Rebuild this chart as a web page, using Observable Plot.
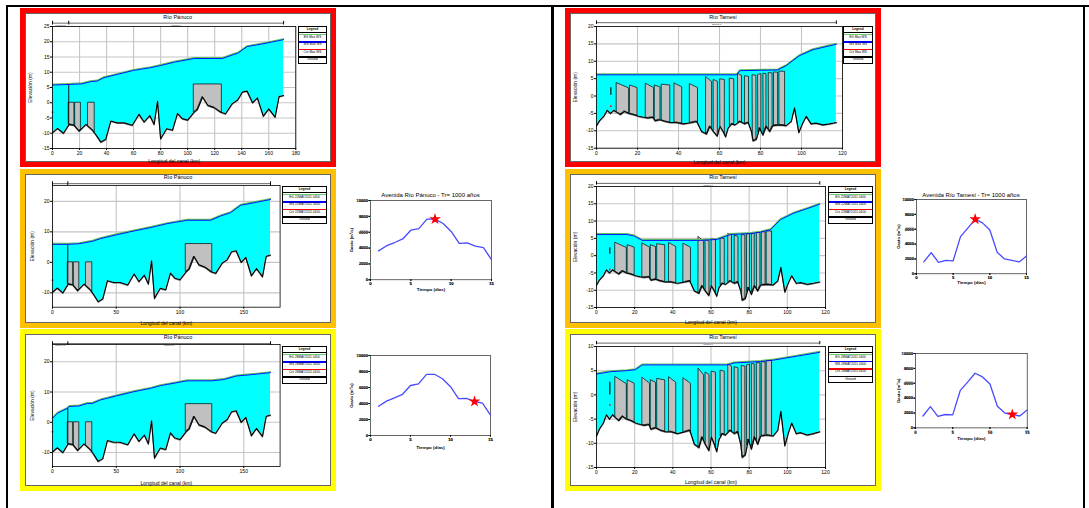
<!DOCTYPE html>
<html lang="es"><head><meta charset="utf-8">
<script src="https://cdn.jsdelivr.net/npm/d3@7"></script>
<script src="https://cdn.jsdelivr.net/npm/@observablehq/plot@0.6"></script>
<style>
html,body{margin:0;padding:0;background:#fff;}
#page{position:relative;width:1089px;height:508px;overflow:hidden;background:#fff;font-family:"Liberation Sans",Arial,sans-serif;}
.blk{position:absolute;background:#000;}
.box{position:absolute;box-sizing:border-box;}
.inner{position:absolute;box-sizing:border-box;border:1px solid #666;background:#fff;}
.ttl{position:absolute;transform:translate(-50%,-50%);white-space:nowrap;font-size:5.5px;color:#000;}
.leg{position:absolute;box-sizing:border-box;border:1px solid #000;background:#fff;font-size:3.2px;color:#000;overflow:hidden;}
.leg div{position:absolute;left:0;right:0;}
.leg .h{top:0;height:5px;line-height:5px;text-align:center;font-weight:bold;border-bottom:0.8px solid #000;}
.leg .ln{height:1.4px;}
.leg .tx{text-align:center;white-space:nowrap;line-height:3.4px;height:3.4px;}
.plot{position:absolute;overflow:visible;}
</style></head><body><div id="page"></div>
<script>
// ---------------- DATA ----------------
// Río Pánuco: ground profile (km, m)
const panucoKm = [0,3.7,8.1,12.3,16,19.7,24.7,29.6,32,35.8,39.4,43.1,48,53,59,64,67.8,72,75.2,77.7,80,84.5,88.8,92.5,96,100,104.8,107.2,111,115,119.6,124.5,128,133,137,140.5,144,148,151.6,156,160,164.7,167.6,171];
const panucoGround = [-9.8,-8.4,-10,-7.1,-7.4,-9.3,-7.1,-9,-10.4,-12.9,-12,-6,-6.6,-6.6,-7.4,-3.8,-6.3,-4.2,-7.1,0.5,-11.8,-8.5,-9,-3.5,-5.2,-5.7,-3.1,-2.2,1.9,-0.9,-1.6,-3.1,-3.6,-0.3,0.9,3.5,3.8,0,1.6,-4.4,-2,-4.7,2,2.4];
// water surface profiles
const panucoMaxKm = [0,12.3,22,28,33,38,48,60,72.7,80,90,104.8,125.7,134,137,144,149,159,171];
const panucoMaxWs = [5.8,6.0,6.2,6.9,7.1,8.2,9.3,10.6,11.5,12.2,13.3,14.5,14.5,15.8,16.2,18.4,18.8,19.6,20.7];
const panuco22Km = [0,11.7,20.9,31.3,37.9,50.9,64,77,90,105.7,124,131.9,139.7,147.5,171];
const panuco22Ws = [5.9,5.9,6.1,6.9,7.8,9.1,10.3,11.4,12.7,13.8,13.8,15.2,16.3,18.7,20.6];
const panuco28Km = [0,3.9,11.7,13,20.8,27.3,31,37.8,50.8,63.8,76.8,84.6,97.7,105.5,125,134,144.5,157.6,171];
const panuco28Ws = [1.3,3.0,4.6,5.2,5.4,6.2,6.2,7.4,8.8,10.1,11.2,12.1,13.1,13.7,13.7,14.1,15.3,15.8,16.4];
// structures (bridges / culverts)
const panucoStructStart = [12.3,17.0,26.5,104.8];
const panucoStructEnd   = [16.2,21.0,31.2,125.3];
const panucoStructTop   = [0,0,0,6];
const panucoReaches = ["Panuco 2","Panuco 1"];
const panucoReachStart = [0,12];
const panucoReachEnd = [12,171];
const panucoJunctionKm = 12;
const panucoCritKm = 0;
const panucoCrit = [-3.1,-5.9,-3.1];

// Río Tamesí: ground profile
const tamesiKm = [0,1.6,3.6,5.2,6.8,8.4,10,11.7,13.6,15.7,18,20.5,23,25,27.5,28.6,31,33.5,36,39,42.4,46.4,48.9,51.3,53.7,55.3,57,58.9,60.2,61.8,63,64.2,65.9,67.5,70,72.3,74,75.6,76.4,78,79.6,81.2,82.8,84.5,86,89.3,92.5,95,96.6,98.7,100.6,102.3,104.7,107,110.4,113.6,117];
const tamesiGround = [-8.5,-7,-5.8,-4.1,-5,-4.1,-4.7,-5.3,-4.4,-5,-5.3,-5.8,-6.1,-6.3,-6.1,-7.1,-6.8,-7.3,-7.6,-7.6,-8,-7.6,-7.3,-10.2,-10.9,-8.7,-10.2,-11.5,-8.7,-10.2,-11.7,-9.2,-8,-8.3,-7.3,-8,-7.6,-10.2,-12.9,-12.4,-9.2,-11.2,-8.7,-10.2,-8.5,-8.3,-8.5,-7.3,-3.4,-10.5,-7.8,-5.8,-8,-7.8,-8.3,-8,-7.6];
const tamesiMaxKm = [0,68.3,70,88.5,90,92.5,95.8,99,105.5,117];
const tamesiMaxWs = [6.1,6.1,7.3,7.5,8.0,8.7,10.2,11.6,13.3,14.9];
const tamesi22Km = [0,16,19.6,24,54.5,63.2,70.2,80.7,86,91.2,96.4,103.4,110.4,117];
const tamesi22Ws = [6.1,6.1,5.7,4.4,4.4,4.7,6.1,6.4,6.8,7.5,10.4,12.3,13.6,14.9];
const tamesi28Km = [0,7.3,16,20.4,24,68.5,72,86,93,103.4,117];
const tamesi28Ws = [4.3,4.8,5.0,5.2,6.2,6.2,6.6,6.9,7.2,7.9,8.8];
const tamesiStructStart = [10,16.5,24.2,28.6,32,38.2,45.7,53.6,57.3,60.5,65.2,69.2,72.6,76.3,79,81.6,84.2,86.8,89.4];
const tamesiStructEnd   = [15.9,20,28.1,31.2,36,41.8,49.5,56.4,59.2,62.6,67.2,71,74.4,78,80.4,82.9,85.9,88.6,92];
const tamesiStructTopL  = [3.7,3.0,3.5,3.0,3.3,3.6,3.4,5.4,4.6,4.8,5.0,6.3,5.7,6.0,6.1,6.4,6.6,6.8,7.0];
const tamesiStructTopR  = [2.2,2.3,2.3,2.5,3.0,2.5,2.3,4.0,4.1,4.6,4.8,5.8,5.5,5.8,6.3,6.3,6.5,6.7,7.0];
const tamesiReaches = ["Tamesi 1"];
const tamesiReachStart = [0];
const tamesiReachEnd = [117];
const tamesiCritKm = 7;
const tamesiCrit = [-2.9,-4.0,-2.1];
const tamesiMarkKm = 7;
const tamesiMarkLow = [0.2,0.4,0.0];
const tamesiMarkHigh = [2.4,2.3,2.6];

// Hydrographs
const hydroDays = [1,2,3,4,5,6,7,8,9,10,11,12,13,14,15];
const panucoQ = [3650,4300,4700,5150,6250,6450,7650,7650,7100,6100,4600,4650,4250,4050,2550];
const tamesiQ = [1600,2850,1550,1800,1750,5000,6150,7350,6850,5900,2900,2000,1800,1600,2400];
const markerDays = [8,13];

const legendLabels = {
  max: ["EG  Max WS","WS  Max WS","Crit  Max WS","Ground"],
  d22: ["EG  22MAY2011 0400","WS  22MAY2011 0400","Crit  22MAY2011 0400","Ground"],
  d28: ["EG  28MAY2011 0400","WS  28MAY2011 0400","Crit  28MAY2011 0400","Ground"]
};
const legendColors = ["#6fcf6f","#0000ff","#ff0000","#000000"];

// ---------------- LAYOUT HELPERS ----------------
const page = document.getElementById("page");
function div(cls, css, html) {
  const d = document.createElement("div");
  d.className = cls; Object.assign(d.style, css);
  if (html != null) d.innerHTML = html;
  page.appendChild(d); return d;
}
function place(svg, left, top) {
  svg.classList.add("plot");
  svg.style.left = left + "px"; svg.style.top = top + "px";
  page.appendChild(svg);
}
const FONT = "Liberation Sans, Arial, sans-serif";
const fmt = d => String(d);

// frame lines
div("blk", {left:"6px", top:"5px", width:"1083px", height:"2px"});
div("blk", {left:"6px", top:"5px", width:"2px", height:"503px"});
div("blk", {left:"551px", top:"5px", width:"3px", height:"503px"});
div("blk", {left:"1083px", top:"5px", width:"2px", height:"503px"});

// coloured boxes
const boxes = [
  {x:20, y:8, w:316, h:159, c:"#ff0000"},
  {x:20, y:169, w:316, h:159, c:"#ffc000"},
  {x:20, y:329, w:316, h:162, c:"#ffff00"},
  {x:565, y:8, w:316, h:159, c:"#ff0000"},
  {x:565, y:169, w:316, h:159, c:"#ffc000"},
  {x:565, y:329, w:316, h:162, c:"#ffff00"}
];
boxes.forEach(b => {
  div("box", {left:b.x+"px", top:b.y+"px", width:b.w+"px", height:b.h+"px", background:b.c});
  div("inner", {left:(b.x+5)+"px", top:(b.y+5)+"px", width:(b.w-10)+"px", height:(b.h-10)+"px"});
});

function legendBox(c) {
  const lg = div("leg", {left:c.lx+"px", top:c.ly+"px", width:c.lw+"px", height:c.lh+"px"});
  const head = 5.8, eh = (c.lh - 2 - head) / 4;
  let html = `<div class="h">Legend</div>`;
  c.legend.forEach((t,i) => {
    const y0 = head + i * eh;
    html += `<div class="ln" style="top:${(y0 + 1.0).toFixed(2)}px;background:${legendColors[i]}"></div>`;
    html += `<div class="tx" style="top:${(y0 + 3.0).toFixed(2)}px">${t}</div>`;
  });
  lg.innerHTML = html;
}

// ---------------- PROFILE CHART ----------------
function profileChart(c) {
  const ml = 28, mr = 4, mt = 12, mb = 21;
  const w = c.px1 - c.px0, h = c.py1 - c.py0;
  const gS = d3.scaleLinear().domain(c.km).range(c.ground).clamp(true);
  const wS = d3.scaleLinear().domain(c.wsKm).range(c.ws).clamp(true);
  const xs = Array.from(new Set([...c.km, ...c.wsKm])).sort((a,b)=>a-b);
  const water = xs.map(x => ({x, g:gS(x), w:wS(x)}));
  const groundPts = c.km.map((x,i) => ({x, y:c.ground[i]}));
  const wsPts = c.wsKm.map((x,i) => ({x, y:c.ws[i]}));
  const structs = [];
  c.sStart.forEach((x1,i) => {
    const x2 = c.sEnd[i];
    const top = d3.scaleLinear().domain([x1,x2]).range([c.sTopL[i], c.sTopR[i]]);
    [x1, ...c.km.filter(k => k > x1 && k < x2), x2].forEach(x => structs.push({id:i, x, g:gS(x), t:top(x)}));
  });
  const reaches = c.reachName.map((n,i) => ({n, a:c.reachStart[i], b:c.reachEnd[i]}));
  const ends = Array.from(new Set([...c.reachStart, ...c.reachEnd]));
  const extra = [];
  if (c.junction != null) extra.push(Plot.ruleX([c.junction], {x:d=>d, y1:d=>gS(d), y2:d=>wS(d), stroke:"#000", strokeWidth:0.9}));
  if (c.mark) extra.push(Plot.ruleX([c.mark], {x:"x", y1:"lo", y2:"hi", stroke:"#000", strokeWidth:1.1}));
  const svg = Plot.plot({
    width: w + ml + mr, height: h + mt + mb,
    marginLeft: ml, marginRight: mr, marginTop: mt, marginBottom: mb,
    style: {fontSize:"5px", fontFamily:FONT, background:"transparent", overflow:"visible"},
    x: {domain: c.xDomain}, y: {domain: c.yDomain},
    marks: [
      Plot.gridX({ticks:c.xTicks, stroke:"#c6c6c6", strokeOpacity:1, strokeWidth:1.1}),
      Plot.gridY({ticks:c.yTicks, stroke:"#c6c6c6", strokeOpacity:1, strokeWidth:1.1}),
      Plot.areaY(water, {x:"x", y1:"g", y2:"w", fill:"#00ffff"}),
      Plot.areaY(structs, {x:"x", y1:"g", y2:"t", z:"id", fill:"#c0c0c0", stroke:"#000", strokeWidth:0.7}),
      ...extra,
      Plot.line(wsPts, {x:"x", y:"y", stroke:"#5cc35c", strokeWidth:1.2, dy:-0.9}),
      Plot.line(wsPts, {x:"x", y:"y", stroke:"#0000ff", strokeWidth:0.9}),
      Plot.line(groundPts, {x:"x", y:"y", stroke:"#888", strokeWidth:1.2, dy:0.6}),
      Plot.line(groundPts, {x:"x", y:"y", stroke:"#000", strokeWidth:1.1}),
      Plot.dot([{x:c.critKm, y:c.crit}], {x:"x", y:"y", fill:"#ff0000", r:0.9, symbol:"square"}),
      Plot.frame({stroke:"#000", strokeWidth:0.8}),
      Plot.ruleY(reaches, {y:c.reachY, x1:"a", x2:"b", stroke:"#000", strokeWidth:0.6}),
      Plot.ruleX(ends, {x:d=>d, y1:c.reachY - c.reachTick, y2:c.reachY + c.reachTick, stroke:"#000", strokeWidth:1}),
      Plot.text(reaches, {x:d => (d.a + d.b) / 2, y:c.reachY, text:"n", fontSize:2.4, dy:1.6, fill:"#333"}),
      Plot.axisX({ticks:c.xTicks, tickSize:2, tickPadding:1, tickFormat:fmt, label:"Longitud del canal (km)", labelAnchor:"center", labelOffset:c.xLabOff, labelArrow:"none"}),
      Plot.axisY({ticks:c.yTicks, tickSize:2, tickPadding:1, tickFormat:fmt, label:"Elevación (m)", labelAnchor:"center", labelOffset:c.yLabOff, labelArrow:"none"})
    ]
  });
  place(svg, c.px0 - ml, c.py0 - mt);
  div("ttl", {left:c.tx+"px", top:c.ty+"px"}, c.title);
  legendBox(c);
}

// ---------------- HYDROGRAPH ----------------
function hydroChart(c) {
  const ml = 24, mr = 4, mt = 4, mb = 16;
  const w = c.px1 - c.px0, h = c.py1 - c.py0;
  const pts = hydroDays.map((t,i) => ({t, q:c.q[i]}));
  const mk = pts.filter(d => d.t === c.marker);
  const svg = Plot.plot({
    width: w + ml + mr, height: h + mt + mb,
    marginLeft: ml, marginRight: mr, marginTop: mt, marginBottom: mb,
    style: {fontSize:"3.6px", fontFamily:FONT, background:"transparent", overflow:"visible"},
    x: {domain:[0,15]}, y: {domain:[0,10000]},
    marks: [
      Plot.frame({stroke:"#000", strokeWidth:0.6}),
      Plot.line(pts, {x:"t", y:"q", stroke:"#4a4aff", strokeWidth:1.3}),
      Plot.dot(mk, {x:"t", y:"q", symbol:"star", fill:"#ff0000", stroke:"#ff0000", r:2.2}),
      Plot.axisX({ticks:[0,5,10,15], tickSize:1.5, tickPadding:1, tickFormat:fmt, label:"Tiempo (días)", labelAnchor:"center", labelOffset:c.xLabOff, labelArrow:"none", fontWeight:"bold", fontSize:4.4}),
      Plot.axisX({ticks:[0,5,10,15], tickSize:1.5, tickPadding:1, tickFormat:fmt, label:null}),
      Plot.axisY({ticks:[0,2000,4000,6000,8000,10000], tickSize:1.5, tickPadding:1, tickFormat:fmt, label:"Gasto (m³/s)", labelAnchor:"center", labelOffset:c.yLabOff, labelArrow:"none", fontWeight:"bold", fontSize:4.2}),
      Plot.axisY({ticks:[0,2000,4000,6000,8000,10000], tickSize:1.5, tickPadding:1, tickFormat:fmt, label:null})
    ]
  });
  place(svg, c.px0 - ml, c.py0 - mt);
  if (c.title) div("ttl", {left:c.tx+"px", top:c.ty+"px", fontSize:"6px"}, c.title);
}

// ---------------- BUILD ----------------
const panucoBase = {km:panucoKm, ground:panucoGround, sStart:panucoStructStart, sEnd:panucoStructEnd,
  sTopL:panucoStructTop, sTopR:panucoStructTop, reachName:panucoReaches, reachStart:panucoReachStart,
  reachEnd:panucoReachEnd, junction:panucoJunctionKm, critKm:panucoCritKm, title:"Río Pánuco"};
profileChart({...panucoBase, wsKm:panucoMaxKm, ws:panucoMaxWs, crit:panucoCrit[0],
  px0:51.7, px1:295, py0:25.7, py1:147.7, xDomain:[0,180], yDomain:[-15,25],
  xTicks:d3.range(0,181,20), yTicks:d3.range(-15,26,5), reachY:26.1, reachTick:0.6,
  xLabOff:14.8, yLabOff:24.2, tx:177.7, ty:17.3, lx:298, ly:26, lw:29, lh:38, legend:legendLabels.max});
profileChart({...panucoBase, wsKm:panuco22Km, ws:panuco22Ws, crit:panucoCrit[1],
  px0:51.7, px1:279.3, py0:185, py1:306.7, xDomain:[0,178.5], yDomain:[-14.7,25.2],
  xTicks:[0,50,100,150], yTicks:[-10,0,10,20], reachY:25.8, reachTick:0.6,
  xLabOff:17.5, yLabOff:22.5, tx:178, ty:176.7, lx:282, ly:186, lw:45, lh:38, legend:legendLabels.d22});
profileChart({...panucoBase, wsKm:panuco28Km, ws:panuco28Ws, crit:panucoCrit[2],
  px0:51.7, px1:279.3, py0:344, py1:466, xDomain:[0,178.5], yDomain:[-14.6,25.7],
  xTicks:[0,50,100,150], yTicks:[-10,0,10,20], reachY:26.0, reachTick:0.6,
  xLabOff:18.5, yLabOff:22.5, tx:178, ty:337, lx:282, ly:346, lw:45, lh:38, legend:legendLabels.d28});

const tamesiBase = {km:tamesiKm, ground:tamesiGround, sStart:tamesiStructStart, sEnd:tamesiStructEnd,
  sTopL:tamesiStructTopL, sTopR:tamesiStructTopR, reachName:tamesiReaches, reachStart:tamesiReachStart,
  reachEnd:tamesiReachEnd, junction:null, critKm:tamesiCritKm, title:"Río Tamesí"};
profileChart({...tamesiBase, wsKm:tamesiMaxKm, ws:tamesiMaxWs, crit:tamesiCrit[0],
  mark:{x:tamesiMarkKm, lo:tamesiMarkLow[0], hi:tamesiMarkHigh[0]},
  px0:596, px1:842, py0:26, py1:147.7, xDomain:[0,120], yDomain:[-15,20],
  xTicks:d3.range(0,121,20), yTicks:d3.range(-15,21,5), reachY:21.1, reachTick:0.5,
  xLabOff:15.8, yLabOff:23.5, tx:723, ty:17.3, lx:843, ly:26, lw:30, lh:38, legend:legendLabels.max});
profileChart({...tamesiBase, wsKm:tamesi22Km, ws:tamesi22Ws, crit:tamesiCrit[1],
  mark:{x:tamesiMarkKm, lo:tamesiMarkLow[1], hi:tamesiMarkHigh[1]},
  px0:596, px1:825, py0:185.7, py1:306.7, xDomain:[0,120], yDomain:[-15,20],
  xTicks:d3.range(0,121,20), yTicks:d3.range(-15,21,5), reachY:20.9, reachTick:0.5,
  xLabOff:16.8, yLabOff:23.5, tx:723, ty:176.7, lx:828, ly:186, lw:45, lh:38, legend:legendLabels.d22});
profileChart({...tamesiBase, wsKm:tamesi28Km, ws:tamesi28Ws, crit:tamesiCrit[2],
  mark:{x:tamesiMarkKm, lo:tamesiMarkLow[2], hi:tamesiMarkHigh[2]},
  px0:596, px1:825, py0:346.3, py1:467.3, xDomain:[0,120], yDomain:[-15,10],
  xTicks:d3.range(0,121,20), yTicks:d3.range(-15,11,5), reachY:10.7, reachTick:0.35,
  xLabOff:16.5, yLabOff:23.5, tx:723, ty:337, lx:828, ly:346, lw:45, lh:37, legend:legendLabels.d28});

hydroChart({q:panucoQ, marker:markerDays[0], px0:370, px1:491, py0:200, py1:279.3, xLabOff:11.2, yLabOff:20.5,
  title:"Avenida Río Pánuco - Tr= 1000 años", tx:430.5, ty:195});
hydroChart({q:panucoQ, marker:markerDays[1], px0:370, px1:490, py0:355, py1:435, xLabOff:13.2, yLabOff:20.5});
hydroChart({q:tamesiQ, marker:markerDays[0], px0:916, px1:1026, py0:199, py1:273.3, xLabOff:10.6, yLabOff:19.2,
  title:"Avenida Río Tamesí - Tr= 1000 años", tx:971, ty:195});
hydroChart({q:tamesiQ, marker:markerDays[1], px0:915, px1:1026.7, py0:353.3, py1:427.7, xLabOff:11.8, yLabOff:18.9});
</script></body></html>
